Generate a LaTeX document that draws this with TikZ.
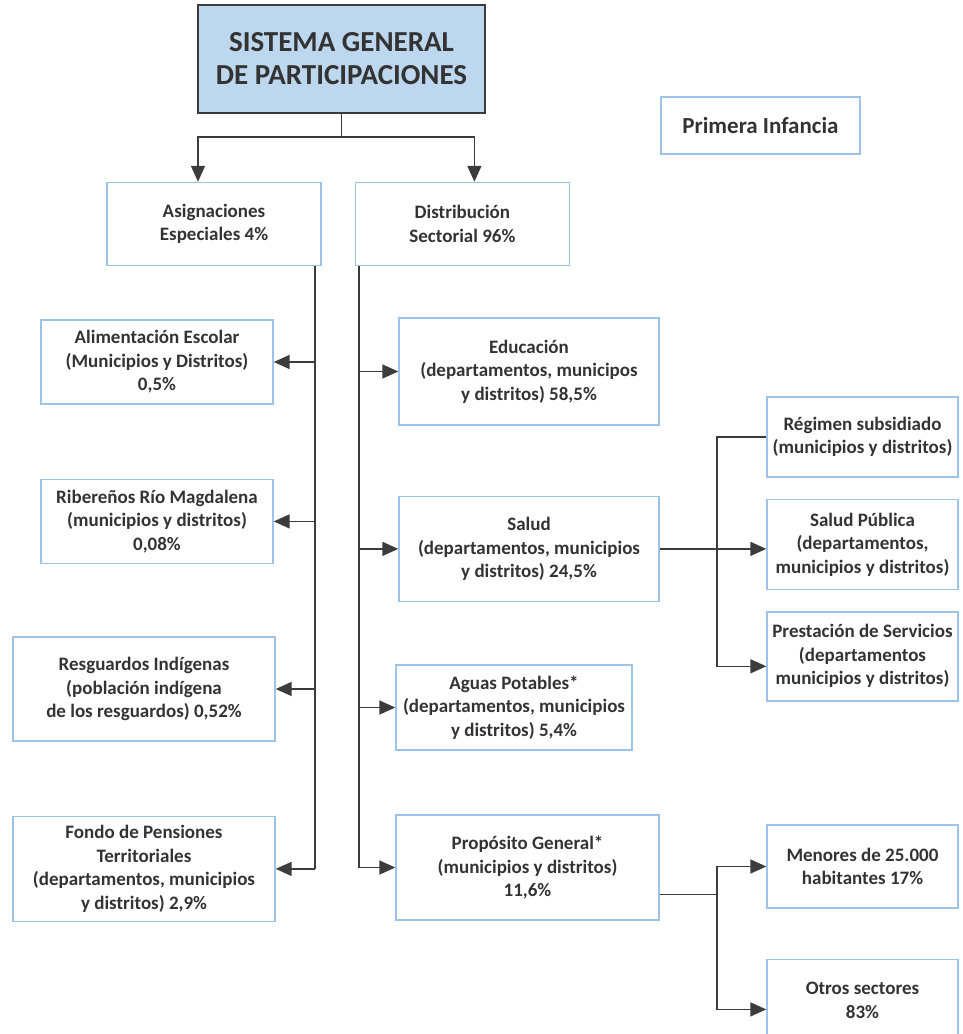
\documentclass[tikz,border=0pt]{standalone}
\usepackage{fontspec}
\setmainfont{Carlito}
\usetikzlibrary{positioning,arrows.meta,calc}

\begin{document}
\begin{tikzpicture}[x=1pt,y=-1pt]
       \definecolor{lineblue}{HTML}{9DC3E6}
       \definecolor{fillblue}{HTML}{BDD7EE}
       \definecolor{darkgray}{HTML}{3C3C3C}
       \definecolor{textgray}{HTML}{333333}

       \newcommand{\trunkin}[0]{7}
       \newcommand{\forkout}[0]{57}

       \tikzstyle{block}     = [rectangle, draw = lineblue, line width=1.4pt, inner sep=0pt, align=center, text=textgray, font=\fontsize{19}{23.5}\selectfont\bfseries]
       \tikzstyle{connector} = [line width=1.6pt, draw=darkgray, -{Triangle[length=16pt,width=14pt]}]
       \tikzstyle{joint}     = [line width=1.6pt, draw=darkgray]

       \useasboundingbox (0,0) rectangle (962,1034);

       \node [block, fill = fillblue, draw = darkgray, minimum width=287pt, minimum height=108pt, font=\fontsize{29}{33}\selectfont\bfseries] (sgp) at (341.5,59) {
         SISTEMA GENERAL\\DE PARTICIPACIONES
       };
       \node [block, minimum width=199pt, minimum height=57pt, font=\fontsize{23}{27}\selectfont\bfseries] (infancia) at (760.5,125.5) {Primera Infancia};

       % first level
       \node [block, minimum width=214pt, minimum height=83pt] (asig) at (214,224) {Asignaciones\\Especiales 4\%};
       \node [block, minimum width=214pt, minimum height=83pt, right = 33pt of asig] (dist) {Distribución\\Sectorial 96\%};

       % asignaciones especiales
       \node [block, minimum width=232pt, minimum height=84pt] (alim) at (157,362) {
         Alimentación Escolar\\(Municipios y Distritos)\\0,5\%
       };
       \node [block, minimum width=232pt, minimum height=84pt, below = 74pt of alim] (riber) {
         Ribereños Río Magdalena\\(municipios y distritos)\\0,08\%
       };
       \node [block, minimum width=262pt, minimum height=104pt] (resg) at (144,689) {
         Resguardos Indígenas\\(población indígena\\de los resguardos) 0,52\%
       };
       \node [block, minimum width=262pt, minimum height=105pt, below = 74pt of resg] (fondo) {
         Fondo de Pensiones\\Territoriales\\(departamentos, municipios\\y distritos) 2,9\%
       };

       % distribucion sectorial
       \node [block, minimum width=260pt, minimum height=107pt] (educ) at (529,371.5) {
         Educación\\(departamentos, municipos\\y distritos) 58,5\%
       };
       \node [block, minimum width=260pt, minimum height=105pt, below = 70pt of educ] (salud) {
         Salud\\(departamentos, municipios\\y distritos) 24,5\%
       };
       \node [block, minimum width=236pt, minimum height=85pt] (aguas) at (514,707.5) {
         Aguas Potables*\\(departamentos, municipios\\y distritos) 5,4\%
       };
       \node [block, minimum width=263pt, minimum height=105pt] (prop) at (527.5,867.5) {
         Propósito General*\\(municipios y distritos)\\11,6\%
       };

       % salud
       \node [block, minimum width=191pt, minimum height=80pt] (regimen) at (862.5,437) {
         Régimen subsidiado\\(municipios y distritos)
       };
       \node [block, minimum width=191pt, minimum height=90pt, below = 21pt of regimen] (spub) {
         Salud Pública\\(departamentos,\\municipios y distritos)
       };
       \node [block, minimum width=191pt, minimum height=89pt, below = 21pt of spub] (prest) {
         Prestación de Servicios\\(departamentos\\municipios y distritos)
       };

       % proposito general
       \node [block, minimum width=191pt, minimum height=83pt] (menores) at (862.5,866.5) {
         Menores de 25.000\\habitantes 17\%
       };
       \node [block, minimum width=191pt, minimum height=82pt, below = 50pt of menores] (otros) {
         Otros sectores\\83\%
       };

       \coordinate (split) at ($(sgp.south)+(0,23)$);
       \draw [joint]     (sgp) -- (split);
       \draw [connector] (split) -| ($(asig.north)+(-16,0)$);
       \draw [connector] (split) -| ($(dist.north)+(12,0)$);

       \coordinate (ltop) at ($(asig.south east)+(-\trunkin,0)$);
       \draw [joint] (ltop) -- (ltop |- fondo.east);
       \foreach \n in {alim, riber, resg, fondo}
         \draw [connector] (ltop |- \n.east) -- (\n.east);

       \coordinate (rtop) at ($(dist.south west)+(4,0)$);
       \draw [joint] (rtop) -- (rtop |- prop.west);
       \foreach \n in {educ, salud, aguas, prop}
         \draw [connector] (rtop |- \n.west) -- (\n.west);

       \coordinate (sfork) at ($(salud.east)+(\forkout,0)$);
       \coordinate (sbot)  at ($(prest.west)+(0,10)$);
       \draw [connector] (salud.east) -- (salud.east -| spub.west);
       \draw [connector] (regimen.west) -| (sfork |- sbot) -- (sbot);

       \coordinate (pout)  at ($(prop.east)+(0,27)$);
       \coordinate (pfork) at ($(pout)+(\forkout,0)$);
       \coordinate (obot)  at ($(otros.west)+(0,9)$);
       \draw [joint]     (pout) -- (pfork);
       \draw [connector] (pfork) |- (menores.west);
       \draw [connector] (pfork) |- (obot);
\end{tikzpicture}
\end{document}
